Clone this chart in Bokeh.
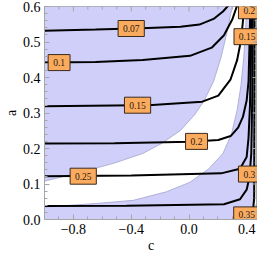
import math
from bokeh.plotting import figure
from bokeh.models import FixedTicker
from bokeh.embed import file_html
from bokeh.resources import INLINE
from bokeh.core.properties import value

# ---------------- data ----------------
C_MIN, C_MAX = -1.0, 0.474
A_MIN, A_MAX = 0.0, 0.6

x_major = [-0.8, -0.4, 0.0, 0.4]
x_major_labels = ["\u22120.8", "\u22120.4", "0.0", "0.4"]
x_minor = [-1.0, -0.9, -0.7, -0.6, -0.5, -0.3, -0.2, -0.1, 0.1, 0.2, 0.3]
y_major = [0.0, 0.1, 0.2, 0.3, 0.4, 0.5, 0.6]
y_major_labels = ["0.0", "0.1", "0.2", "0.3", "0.4", "0.5", "0.6"]
y_minor = [round(0.02 * i, 2) for i in range(31)]

# shaded regions (boundaries)
region1_c = [-1.0, -0.732, -0.516, -0.320, -0.190, -0.059, 0.039, 0.105, 0.170, 0.222, 0.261, 0.288, 0.301]
region1_a = [0.108, 0.135, 0.159, 0.186, 0.214, 0.251, 0.295, 0.335, 0.389, 0.457, 0.524, 0.578, 0.600]
region2_c = [-1.0, -0.647, -0.386, -0.157, 0.007, 0.137, 0.235, 0.294, 0.333, 0.359, 0.379, 0.392, 0.399]
region2_a = [0.035, 0.045, 0.054, 0.078, 0.105, 0.143, 0.186, 0.241, 0.308, 0.376, 0.457, 0.538, 0.600]
region2_right_c = 0.448

# contour lines
c_007 = [-1.0, -0.647, -0.327, -0.059, 0.072, 0.170, 0.235, 0.275]
a_007 = [0.532, 0.535, 0.539, 0.543, 0.549, 0.565, 0.586, 0.604]
c_010 = [-1.0, -0.647, -0.320, 0.007, 0.157, 0.242, 0.301, 0.333]
a_010 = [0.442, 0.444, 0.449, 0.461, 0.484, 0.519, 0.565, 0.603]
c_015 = [-1.0, -0.359, -0.281, 0.092, 0.203, 0.288, 0.333, 0.359, 0.373, 0.379]
a_015 = [0.319, 0.322, 0.322, 0.332, 0.349, 0.395, 0.449, 0.503, 0.557, 0.603]
c_020 = [-1.0, -0.516, 0.007, 0.203, 0.288, 0.340, 0.373, 0.399, 0.412, 0.418, 0.425]
a_020 = [0.214, 0.215, 0.219, 0.224, 0.235, 0.259, 0.289, 0.335, 0.389, 0.484, 0.603]
c_025 = [-1.0, -0.399, 0.222, 0.353, 0.399, 0.412, 0.422, 0.428, 0.431]
a_025 = [0.122, 0.124, 0.130, 0.143, 0.176, 0.230, 0.322, 0.457, 0.603]
c_030 = [-1.0, -0.431, 0.242, 0.353, 0.399, 0.418, 0.431, 0.438, 0.441]
a_030 = [0.038, 0.039, 0.043, 0.057, 0.084, 0.119, 0.186, 0.349, 0.603]
c_035 = [0.438, 0.444, 0.451, 0.453, 0.454]
a_035 = [0.0, 0.030, 0.060, 0.349, 0.603]

# contour labels
label_text = ["0.07", "0.1", "0.15", "0.2", "0.25", "0.3", "0.35", "0.2", "0.15"]
label_c = [-0.40, -0.899, -0.356, 0.052, -0.732, 0.418, 0.400, 0.418, 0.402]
label_a = [0.538, 0.442, 0.322, 0.220, 0.122, 0.128, 0.013, 0.588, 0.515]

# ---------------- style ----------------
BLUE = "#cfcff9"
EDGE = "#a3a3cc"
FRAME = "#a6a6a6"
ORANGE = "#fbab5e"
SERIF = "Liberation Serif"

p = figure(width=257, height=255, x_range=(C_MIN, C_MAX), y_range=(A_MIN, A_MAX),
           output_backend="svg", toolbar_location=None,
           min_border_left=0, min_border_right=0, min_border_top=6, min_border_bottom=0,
           x_axis_label="c", y_axis_label="a")
p.xgrid.visible = False
p.ygrid.visible = False
p.outline_line_color = FRAME
p.outline_line_width = 1

# regions
p.patch(region1_c + [C_MIN], region1_a + [A_MAX], fill_color=BLUE, line_color=None)
p.patch(region2_c + [region2_right_c, region2_right_c, C_MIN],
        region2_a + [A_MAX, A_MIN, A_MIN], fill_color=BLUE, line_color=None)
p.line(region1_c, region1_a, line_color=EDGE, line_width=0.8)
p.line(region2_c, region2_a, line_color=EDGE, line_width=0.8)
p.line([region2_right_c, region2_right_c], [A_MIN, A_MAX], line_color=EDGE, line_width=0.8)

# contours
for cs, As in [(c_007, a_007), (c_010, a_010), (c_015, a_015), (c_020, a_020),
               (c_025, a_025), (c_030, a_030), (c_035, a_035)]:
    p.line(cs, As, line_color="black", line_width=2)

# labels
widths = [9 + 4.3 * len(t) for t in label_text]
p.rect(x=label_c, y=label_a, width=widths, height=[16] * len(label_text),
       width_units="screen", height_units="screen",
       fill_color=ORANGE, line_color="#3a2a1c", line_width=1)
p.text(x=label_c, y=label_a, text=label_text, text_font=value(SERIF),
       text_font_size="9.5px", text_align="center", text_baseline="middle",
       text_color="#2a1a10")

# top / right frame ticks (inward)
p.ray(x=x_major, y=[A_MAX] * len(x_major), length=5, angle=-math.pi / 2,
      length_units="screen", line_color=FRAME, line_width=1)
p.ray(x=x_minor, y=[A_MAX] * len(x_minor), length=3, angle=-math.pi / 2,
      length_units="screen", line_color=FRAME, line_width=1)
p.ray(x=[C_MAX] * len(y_major), y=y_major, length=5, angle=math.pi,
      length_units="screen", line_color=FRAME, line_width=1)
p.ray(x=[C_MAX] * len(y_minor), y=y_minor, length=3, angle=math.pi,
      length_units="screen", line_color=FRAME, line_width=1)

# axes
def style_axis(ax, ticks, minor, labels):
    ax.ticker = FixedTicker(ticks=ticks, minor_ticks=minor)
    ax.axis_line_color = FRAME
    ax.major_tick_line_color = FRAME
    ax.minor_tick_line_color = FRAME
    ax.major_tick_in = 5
    ax.major_tick_out = 0
    ax.minor_tick_in = 3
    ax.minor_tick_out = 0
    ax.major_label_text_font = SERIF
    ax.major_label_text_font_size = "14px"
    ax.major_label_text_color = "black"
    ax.major_label_standoff = 4
    ax.axis_label_text_font = SERIF
    ax.axis_label_text_font_size = "14px"
    ax.axis_label_text_font_style = "normal"
    ax.axis_label_text_color = "black"
    ax.axis_label_standoff = 1
    ax.major_label_overrides = {t: l for t, l in zip(ticks, labels)}

style_axis(p.xaxis[0], x_major, x_minor, x_major_labels)
style_axis(p.yaxis[0], y_major, y_minor, y_major_labels)

open("out.html", "w").write(file_html(p, INLINE))
